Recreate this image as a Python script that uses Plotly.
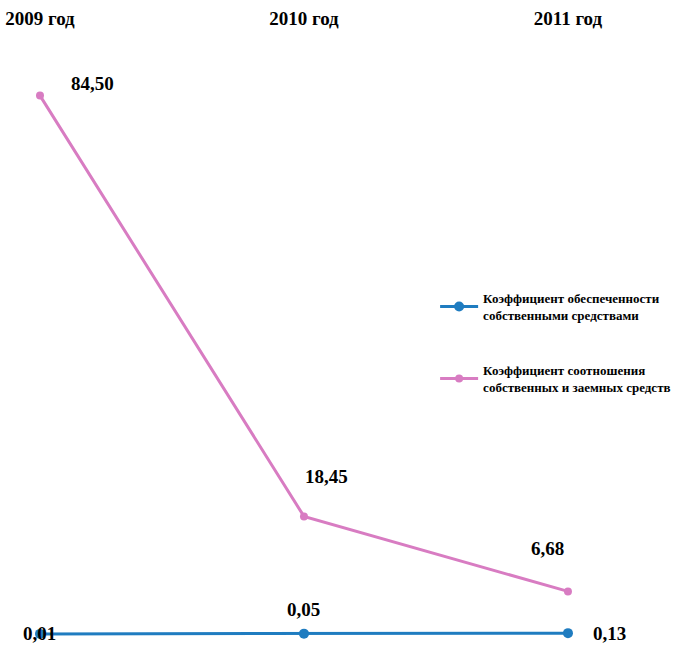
import plotly.graph_objects as go

categories = ["2009 год", "2010 год", "2011 год"]
series_names = [
    "Коэффициент обеспеченности<br>собственными средствами",
    "Коэффициент соотношения<br>собственных и заемных средств",
]
blue_values = [0.01, 0.05, 0.13]
pink_values = [84.50, 18.45, 6.68]

# label offsets (pixels) — styling only
blue_offsets = [(0, 0), (0, 24), (42, 0)]
pink_offsets = [(53, 12), (23, 40), (-20, 43)]

BLUE = "#1f7cc0"
PINK = "#d87cc2"
FONT = "Liberation Serif"

def fmt(v):
    return f"{v:.2f}".replace(".", ",")

xs = list(range(len(categories)))

fig = go.Figure()
fig.add_trace(go.Scatter(
    x=xs, y=blue_values, mode="lines+markers", name=series_names[0],
    legendgroup="a",
    line=dict(color=BLUE, width=3), marker=dict(color=BLUE, size=10),
))
fig.add_trace(go.Scatter(
    x=xs, y=pink_values, mode="lines+markers", name=series_names[1],
    legendgroup="b",
    line=dict(color=PINK, width=3), marker=dict(color=PINK, size=8),
))

annotations = []
for vals, offs in ((blue_values, blue_offsets), (pink_values, pink_offsets)):
    for x, v, (dx, dy) in zip(xs, vals, offs):
        annotations.append(dict(
            x=x, y=v, xref="x", yref="y", text=fmt(v), showarrow=False,
            xshift=dx, yshift=dy,
            font=dict(family=FONT, size=19, color="black", weight="bold"),
        ))

fig.update_layout(
    width=682, height=646,
    margin=dict(l=0, r=0, t=30, b=0, autoexpand=False),
    paper_bgcolor="white", plot_bgcolor="white",
    showlegend=True,
    legend=dict(
        x=0.638, y=0.589, xanchor="left", yanchor="top",
        font=dict(family=FONT, size=13, color="black", weight="bold"),
        bgcolor="rgba(0,0,0,0)", tracegroupgap=35, itemwidth=38,
    ),
    annotations=annotations,
    xaxis=dict(
        side="top", range=[-0.1515, 2.432], tickmode="array",
        tickvals=xs, ticktext=categories, showgrid=False, zeroline=False,
        showline=False, ticks="", automargin=False,
        tickfont=dict(family=FONT, size=19, color="black", weight="bold"),
    ),
    yaxis=dict(range=[-1.89, 94.8], visible=False),
)

fig.write_html(
    "out.html",
    config={"displayModeBar": False},
    post_script="document.body.style.margin='0';document.body.style.overflow='hidden';",
)
